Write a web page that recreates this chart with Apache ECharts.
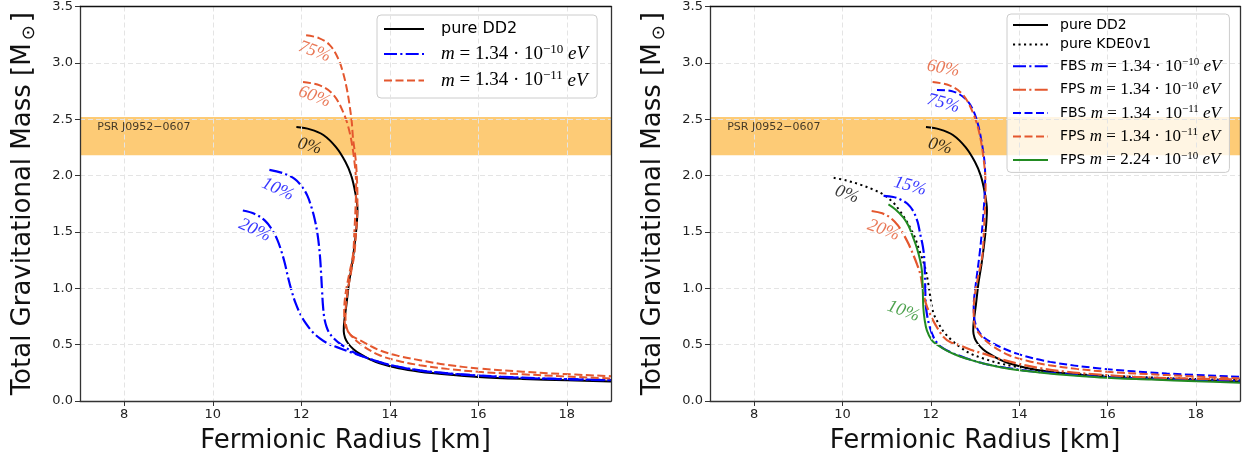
<!DOCTYPE html>
<html><head><meta charset="utf-8">
<script src="https://cdn.jsdelivr.net/npm/echarts@6/dist/echarts.min.js"></script>
<style>html,body{margin:0;padding:0;background:#fff}#c{width:1248px;height:461px}</style>
</head><body><div id="c"></div>
<script>
// ---------- DATA ----------
const xTicks = [8, 10, 12, 14, 16, 18];
const psrBand = [2.18, 2.52];
const psrLabel = ['PSR J0952\u22120607', 7.39, 2.43];

// pure DD2 (both panels)
const dd2 = [[11.89,2.43],[12.2,2.41],[12.5,2.36],[12.79,2.25],[13.0,2.12],[13.13,2.0],[13.22,1.85],[13.27,1.70],[13.25,1.55],[13.21,1.40],[13.15,1.22],[13.08,1.05],[13.02,0.85],[12.97,0.70],[12.96,0.62],[12.99,0.56],[13.06,0.51],[13.18,0.46],[13.32,0.42],[13.55,0.37],[13.77,0.335],[14.2,0.29],[14.68,0.26],[15.3,0.235],[16.0,0.214],[17.0,0.196],[18.0,0.183],[19.0,0.174]];
// left: m = 1.34e-10 eV, 10% and 20%
const b10 = [[11.28,2.05],[11.6,2.02],[11.85,1.97],[12.02,1.9],[12.14,1.82],[12.23,1.72],[12.3,1.62],[12.36,1.5],[12.4,1.38],[12.43,1.25],[12.45,1.12],[12.47,0.98],[12.49,0.85],[12.52,0.74],[12.57,0.66],[12.64,0.6],[12.75,0.55],[12.87,0.51],[13.17,0.435],[13.5,0.38],[14.0,0.32],[14.68,0.272],[15.5,0.24],[16.5,0.216],[17.5,0.2],[19,0.186]];
const b20 = [[10.68,1.69],[10.95,1.66],[11.18,1.6],[11.34,1.52],[11.46,1.43],[11.55,1.33],[11.63,1.22],[11.7,1.10],[11.78,0.98],[11.87,0.87],[11.98,0.77],[12.1,0.69],[12.25,0.615],[12.42,0.555],[12.6,0.51],[12.79,0.48],[13.1,0.435],[13.5,0.38],[14.0,0.32],[14.68,0.27],[15.5,0.238],[16.5,0.214],[17.5,0.198],[19,0.184]];
// left: m = 1.34e-11 eV, 75% and 60% (60% also FPS 1.34e-11 right)
const o75 = [[12.11,3.245],[12.4,3.22],[12.64,3.16],[12.82,3.05],[12.94,2.92],[13.03,2.77],[13.09,2.63],[13.14,2.48],[13.17,2.33],[13.22,2.18],[13.25,2.04],[13.27,1.8],[13.26,1.6],[13.23,1.45],[13.2,1.3],[13.13,1.15],[13.06,1.0],[13.01,0.85],[13.0,0.75],[13.02,0.66],[13.1,0.59],[13.32,0.54],[13.77,0.45],[14.2,0.4],[14.68,0.362],[15.3,0.32],[16.0,0.289],[17.0,0.26],[17.69,0.244],[19,0.22]];
const o60 = [[12.04,2.83],[12.42,2.80],[12.72,2.72],[12.94,2.57],[13.09,2.39],[13.2,2.13],[13.24,1.9],[13.23,1.745],[13.2,1.5],[13.17,1.30],[13.08,1.12],[13.0,0.95],[12.97,0.80],[12.98,0.70],[13.05,0.62],[13.32,0.51],[13.77,0.406],[14.2,0.355],[14.68,0.318],[15.3,0.285],[16.0,0.259],[17.0,0.237],[17.69,0.223],[19,0.2]];
// right panel
const kde = [[9.8,1.98],[10.1,1.955],[10.4,1.92],[10.7,1.875],[10.93,1.83],[11.15,1.76],[11.3,1.686],[11.43,1.61],[11.53,1.54],[11.64,1.45],[11.72,1.36],[11.8,1.27],[11.87,1.185],[11.93,1.07],[11.99,0.92],[12.06,0.78],[12.2,0.67],[12.32,0.6],[12.5,0.53],[12.66,0.479],[12.9,0.42],[13.19,0.377],[13.55,0.335],[13.95,0.303],[14.5,0.27],[15.08,0.244],[15.8,0.228],[16.58,0.215],[17.7,0.198],[19,0.185]];
const fbs10 = [[10.93,1.82],[11.15,1.81],[11.3,1.79],[11.47,1.75],[11.6,1.686],[11.7,1.59],[11.76,1.48],[11.82,1.37],[11.85,1.27],[11.87,1.07],[11.88,0.9],[11.9,0.8],[11.96,0.68],[12.06,0.567],[12.2,0.49],[12.44,0.435],[12.8,0.38],[13.19,0.333],[13.7,0.295],[14.32,0.262],[15.0,0.24],[15.83,0.215],[17.0,0.198],[19,0.178]];
const fps10 = [[10.66,1.686],[10.9,1.665],[11.08,1.627],[11.25,1.56],[11.38,1.48],[11.5,1.39],[11.6,1.30],[11.69,1.21],[11.76,1.127],[11.8,1.04],[11.83,0.96],[11.9,0.85],[11.98,0.774],[12.1,0.68],[12.29,0.567],[12.45,0.52],[12.66,0.494],[12.9,0.455],[13.19,0.42],[13.55,0.375],[13.95,0.333],[14.5,0.29],[15.08,0.259],[15.8,0.235],[16.58,0.215],[17.7,0.2],[19,0.19]];
const fbs11 = [[12.14,2.76],[12.51,2.745],[12.81,2.67],[13.0,2.54],[13.15,2.30],[13.23,2.01],[13.2,1.715],[13.12,1.36],[13.0,0.98],[12.97,0.85],[12.98,0.744],[13.12,0.597],[13.42,0.51],[13.95,0.42],[14.7,0.347],[15.83,0.289],[17.34,0.244],[19,0.215]];
const fps224 = [[11.04,1.745],[11.2,1.70],[11.38,1.627],[11.5,1.55],[11.6,1.45],[11.69,1.35],[11.76,1.244],[11.8,1.15],[11.81,1.07],[11.82,0.95],[11.83,0.83],[11.86,0.72],[11.91,0.627],[12.02,0.54],[12.14,0.5],[12.35,0.45],[12.59,0.406],[12.9,0.365],[13.19,0.333],[13.7,0.29],[14.32,0.259],[15.0,0.232],[15.83,0.209],[17.0,0.19],[18.0,0.175],[19,0.162]];

// curve labels: [R, M, text]
const leftLabels = [[12.30,3.10,'75%'],[12.30,2.70,'60%'],[12.19,2.26,'0%'],[11.47,1.877,'10%'],[10.95,1.515,'20%']];
const rightLabels = [[12.28,2.95,'60%'],[12.28,2.64,'75%'],[12.21,2.26,'0%'],[10.10,1.833,'0%'],[11.53,1.906,'15%'],[10.93,1.515,'20%'],[11.38,0.797,'10%']];

// ---------- STYLE ----------
const BLUE = '#0000ff', ORANGE = '#e4572e', GREEN = '#228b22', BLACK = '#000';
const DASH = [8, 3.5], DASHDOT = [13, 3.3, 2.1, 3.3], DOT = [2.1, 3.4];
const leftLabelStyle = [[ORANGE,-20],[ORANGE,-20],[BLACK,-15],[BLUE,-25],[BLUE,-25]];
const rightLabelStyle = [[ORANGE,-10],[BLUE,-15],[BLACK,-15],[BLACK,-20],[BLUE,-15],[ORANGE,-20],[GREEN,-20]];
const SANS = 'DejaVu Sans', SERIF = 'Liberation Serif';
const SPINE = { color: '#333', width: 1.3 };

function line(name, data, color, type, gi, width) {
  return { type: 'line', name, data, xAxisIndex: gi, yAxisIndex: gi, symbol: 'none', smooth: 0.35,
    lineStyle: { color, type, width: width || 2 }, itemStyle: { color }, z: 3, silent: true };
}
function band(gi) {
  return { type: 'line', data: [], xAxisIndex: gi, yAxisIndex: gi, silent: true, z: 1,
    markArea: { silent: true, itemStyle: { color: '#fdcb76', opacity: 1 },
      data: [[{ yAxis: psrBand[0] }, { yAxis: psrBand[1] }]] } };
}
function notes(list, styles, gi) {
  const data = list.map((d, i) => ({ value: [d[0], d[1]],
    label: { formatter: d[2], color: styles[i][0], rotate: styles[i][1] } }));
  data.push({ value: [psrLabel[1], psrLabel[2]], label: { formatter: psrLabel[0], color: '#111', rotate: 0,
    fontFamily: SANS, fontStyle: 'normal', fontSize: 11, align: 'left' } });
  return { type: 'scatter', xAxisIndex: gi, yAxisIndex: gi, symbolSize: 0, silent: true, z: 5, data,
    label: { show: true, position: 'inside', fontFamily: SERIF, fontStyle: 'italic', fontSize: 18 } };
}
function math(mass, exp) {
  return '{mi|m}{mr| = ' + mass + ' \u00b7 10}{sup|\u2212' + exp + '}{mr| }{mi|eV}';
}
const legendNames = {
  'pure DD2': '{tx|pure DD2}', 'pure KDE0v1': '{tx|pure KDE0v1}',
  'L10': math('1.34', '10'), 'L11': math('1.34', '11'),
  'FBS10': '{tx|FBS }' + math('1.34', '10'), 'FPS10': '{tx|FPS }' + math('1.34', '10'),
  'FBS11': '{tx|FBS }' + math('1.34', '11'), 'FPS11': '{tx|FPS }' + math('1.34', '11'),
  'FPS224': '{tx|FPS }' + math('2.24', '10')
};
function rich(sz, lh) {
  return {
    tx: { fontFamily: SANS, fontSize: sz, lineHeight: lh, color: '#000' },
    mi: { fontFamily: SERIF, fontStyle: 'italic', fontSize: sz + 3, lineHeight: lh, color: '#000' },
    mr: { fontFamily: SERIF, fontSize: sz + 3, lineHeight: lh, color: '#000' },
    sup: { fontFamily: SERIF, fontSize: sz - 3, lineHeight: 10, verticalAlign: 'top', color: '#000' }
  };
}
function xAxis(gi) {
  return { type: 'value', gridIndex: gi, min: 7, max: 19, z: 4,
    name: 'Fermionic Radius [km]', nameLocation: 'middle', nameGap: 27,
    nameTextStyle: { fontFamily: SANS, fontSize: 26, color: '#111' },
    axisLine: { show: true, onZero: false, lineStyle: SPINE },
    axisTick: { show: true, customValues: xTicks, length: 5, lineStyle: { color: '#333' } },
    axisLabel: { customValues: xTicks, fontFamily: SANS, fontSize: 13, color: '#222', margin: 7 },
    splitLine: { show: true, lineStyle: { color: '#e4e4e4', type: [5, 3] } } };
}
function xTop(gi) {
  return { type: 'value', gridIndex: gi, min: 7, max: 19, position: 'top', z: 4,
    axisLine: { show: true, onZero: false, lineStyle: { color: '#111', width: 1.3 } },
    axisTick: { show: false }, axisLabel: { show: false }, splitLine: { show: false } };
}
function yAxis(gi) {
  return { type: 'value', gridIndex: gi, min: 0, max: 3.5, interval: 0.5, z: 4,
    name: 'Total Gravitational Mass [M{sub|\u2299}]', nameLocation: 'middle', nameGap: 42,
    nameTextStyle: { fontFamily: SANS, fontSize: 26, color: '#111',
      rich: { sub: { fontFamily: SANS, fontSize: 18, verticalAlign: 'bottom', lineHeight: 30, padding: [0, 3, 0, 3] } } },
    axisLine: { show: true, onZero: false, lineStyle: SPINE },
    axisTick: { show: true, length: 5, lineStyle: { color: '#333' } },
    axisLabel: { fontFamily: SANS, fontSize: 13, color: '#222', margin: 7, formatter: v => v.toFixed(1) },
    splitLine: { show: true, lineStyle: { color: '#e4e4e4', type: [5, 3] } } };
}
function yRight(gi) {
  return { type: 'value', gridIndex: gi, min: 0, max: 3.5, position: 'right', z: 4,
    axisLine: { show: true, onZero: false, lineStyle: SPINE },
    axisTick: { show: false }, axisLabel: { show: false }, splitLine: { show: false } };
}

const legendCommon = { orient: 'vertical', itemHeight: 12,
  backgroundColor: 'rgba(255,255,255,0.8)', borderColor: '#ccc', borderWidth: 1, borderRadius: 4,
  itemStyle: { opacity: 0 }, formatter: n => legendNames[n] };

const option = {
  animation: false,
  backgroundColor: '#fff',
  grid: [
    { left: 80, right: 637, top: 5, bottom: 60 },
    { left: 710, right: 8, top: 5, bottom: 60 }
  ],
  xAxis: [xAxis(0), xAxis(1), xTop(0), xTop(1)],
  yAxis: [yAxis(0), yAxis(1), yRight(0), yRight(1)],
  legend: [
    Object.assign({}, legendCommon, { data: ['pure DD2', 'L10', 'L11'], left: 377, top: 15,
      itemWidth: 40, itemGap: 6, padding: [6, 9, 8, 6],
      textStyle: { padding: [0, 0, 0, 12], rich: rich(16, 22) } }),
    Object.assign({}, legendCommon, { data: ['pure DD2', 'pure KDE0v1', 'FBS10', 'FPS10', 'FBS11', 'FPS11', 'FPS224'],
      left: 1007, top: 14, itemWidth: 35, itemGap: 5.4, padding: [4, 8, 4, 5],
      textStyle: { padding: [0, 0, 0, 7], rich: rich(14, 19) } })
  ],
  series: [
    band(0),
    line('pure DD2', dd2, BLACK, 'solid', 0),
    line('L10', b10, BLUE, DASHDOT, 0, 2.2),
    line('L10', b20, BLUE, DASHDOT, 0, 2.2),
    line('L11', o75, ORANGE, DASH, 0),
    line('L11', o60, ORANGE, DASH, 0),
    notes(leftLabels, leftLabelStyle, 0),
    band(1),
    line('pure DD2', dd2, BLACK, 'solid', 1),
    line('pure KDE0v1', kde, BLACK, DOT, 1),
    line('FBS10', fbs10, BLUE, DASHDOT, 1, 2.2),
    line('FPS10', fps10, ORANGE, DASHDOT, 1, 2.2),
    line('FBS11', fbs11, BLUE, DASH, 1),
    line('FPS11', o60, ORANGE, DASH, 1),
    line('FPS224', fps224, GREEN, 'solid', 1),
    notes(rightLabels, rightLabelStyle, 1)
  ]
};
const chart = echarts.init(document.getElementById('c'), null, { renderer: 'canvas' });
chart.setOption(option);
</script></body></html>
